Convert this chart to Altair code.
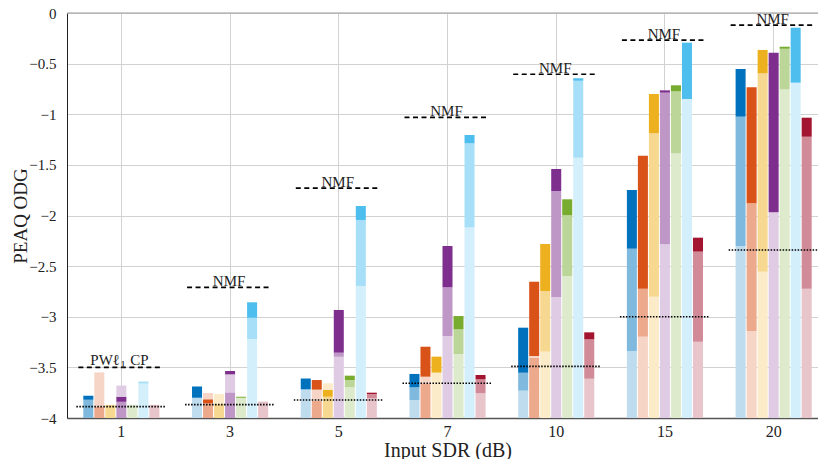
import altair as alt
import pandas as pd

sdr = ["1", "3", "5", "7", "10", "15", "20"]
methods = ["blue", "orange", "yellow", "purple", "green", "cyan", "red"]
shades = ["light", "medium", "dark"]

# bar tops per method, one value per SDR group (-4 = not visible)
light = {
    "blue":   [-3.775, -3.80, -3.717, -3.822, -3.73, -3.338, -2.301],
    "orange": [-3.55, -3.753, -3.72, -3.592, -3.388, -3.197, -3.141],
    "yellow": [-4.0, -3.763, -3.657, -3.552, -3.345, -2.802, -2.555],
    "purple": [-3.68, -3.569, -3.395, -3.19, -2.805, -2.285, -1.968],
    "green":  [-3.87, -3.80, -3.697, -3.368, -2.598, -1.386, -0.754],
    "cyan":   [-3.66, -3.22, -2.696, -2.117, -1.429, -0.849, -0.688],
    "red":    [-3.87, -3.845, -3.806, -3.756, -3.612, -3.246, -2.723],
}
medium = {
    "blue":   [-3.82, -4.0, -4.0, -3.697, -3.553, -2.328, -1.024],
    "orange": [-3.89, -3.855, -3.83, -3.657, -3.404, -2.723, -1.88],
    "yellow": [-3.87, -3.86, -3.79, -4.0, -2.746, -1.188, -0.596],
    "purple": [-3.84, -3.747, -3.355, -2.709, -1.758, -0.787, -4.0],
    "green":  [-4.0, -4.0, -3.625, -3.124, -1.998, -0.774, -0.353],
    "cyan":   [-3.64, -3.01, -2.044, -1.287, -0.668, -4.0, -4.0],
    "red":    [-4.0, -3.84, -3.763, -3.618, -3.223, -2.357, -1.222],
}
dark = {
    "blue":   [-3.78, -3.69, -3.61, -3.565, -3.108, -1.748, -0.553],
    "orange": [-4.0, -3.815, -3.625, -3.296, -2.654, -1.409, -0.734],
    "yellow": [-4.0, -4.0, -3.72, -3.394, -2.281, -0.80, -0.365],
    "purple": [-3.79, -3.536, -2.933, -2.301, -1.541, -0.764, -0.392],
    "green":  [-4.0, -3.79, -3.582, -2.993, -1.84, -0.714, -0.333],
    "cyan":   [-4.0, -2.857, -1.906, -1.205, -0.645, -0.293, -0.145],
    "red":    [-4.0, -4.0, -3.75, -3.575, -3.154, -2.219, -1.034],
}

nmf = [-3.50, -2.71, -1.73, -1.03, -0.605, -0.267, -0.12]
nmf_labels = ["", "NMF", "NMF", "NMF", "NMF", "NMF", "NMF"]
baseline = [-3.888, -3.868, -3.822, -3.657, -3.49, -3.0, -2.34]

# label of the first reference line: "PWℓ" + subscript "1" + "CP"
pw_parts = ["PWℓ", "1", "CP"]
pw_kind = ["main", "sub", "main"]

palette = {
    "blue":   {"dark": "#0072BD", "medium": "#80B9DE", "light": "#BFDCEF"},
    "orange": {"dark": "#D95319", "medium": "#ECA98C", "light": "#F6D4C6"},
    "yellow": {"dark": "#EDB120", "medium": "#F6D890", "light": "#FBEBC8"},
    "purple": {"dark": "#7E2F8E", "medium": "#BF97C7", "light": "#DFCBE3"},
    "green":  {"dark": "#77AC30", "medium": "#BBD698", "light": "#DDEACB"},
    "cyan":   {"dark": "#4DBEEE", "medium": "#A6DFF7", "light": "#D3EFFB"},
    "red":    {"dark": "#A2142F", "medium": "#D18A97", "light": "#E8C4CB"},
}

FONT = "Liberation Serif, DejaVu Serif"

rows = []
for gi, g in enumerate(sdr):
    for m in methods:
        vals = [(light[m][gi], "light"), (medium[m][gi], "medium"), (dark[m][gi], "dark")]
        vals.sort(key=lambda t: t[0])
        prev = -4.0
        for v, s in vals:
            if v > prev:
                rows.append(dict(sdr=g, method=m, key=f"{m}-{s}", lo=prev, hi=v))
                prev = v
bars_df = pd.DataFrame(rows)

lines_df = pd.DataFrame({"sdr": sdr, "nmf": nmf, "label": nmf_labels, "base": baseline})
pw_df = pd.DataFrame({"sdr": [sdr[0]] * 3, "nmf": [nmf[0]] * 3, "part": pw_parts, "kind": pw_kind,
                      "idx": [0, 1, 2]})

color_domain = [f"{m}-{s}" for m in methods for s in shades]
color_range = [palette[m][s] for m in methods for s in shades]

xscale = alt.Scale(domain=sdr, paddingInner=0.3, paddingOuter=0.15, range=[0, 761])
yscale = alt.Scale(domain=[-4, 0], nice=False, zero=False)

x_enc = alt.X(
    "sdr:O", sort=sdr, scale=xscale, title="Input SDR (dB)",
    axis=alt.Axis(labelAngle=0, grid=True, bandPosition=0.5, ticks=False,
                  labelPadding=5, titlePadding=1, domainColor="#555555",
                  domainWidth=1.5, gridColor="#d2d2d2", labelFontSize=16,
                  titleFontSize=20),
)

bars = alt.Chart(bars_df).mark_bar().encode(
    x=x_enc,
    xOffset=alt.XOffset("method:N", sort=methods, scale=alt.Scale(paddingInner=0.09)),
    y=alt.Y("lo:Q", scale=yscale, title="PEAQ ODG",
            axis=alt.Axis(values=[-4, -3.5, -3, -2.5, -2, -1.5, -1, -0.5, 0],
                          format="~g", ticks=False, labelPadding=11,
                          domainColor="#222222", gridColor="#d2d2d2",
                          titleX=-41, titleBaseline="alphabetic",
                          labelFontSize=15, titleFontSize=19)),
    y2="hi:Q",
    color=alt.Color("key:N", scale=alt.Scale(domain=color_domain, range=color_range), legend=None),
)

top_line = alt.Chart(pd.DataFrame({"y": [0]})).mark_rule(color="#999999", strokeWidth=1.2).encode(
    y=alt.Y("y:Q", scale=yscale)
)

dashed = alt.Chart(lines_df).mark_rule(
    color="black", strokeWidth=1.7, strokeDash=[5, 3.5], xOffset=-43, x2Offset=41
).encode(
    x=alt.X("sdr:O", sort=sdr, scale=xscale),
    x2=alt.X2("sdr"),
    y=alt.Y("nmf:Q", scale=yscale),
)

dotted = alt.Chart(lines_df).mark_rule(
    color="black", strokeWidth=1.6, strokeDash=[1.5, 1.5], xOffset=-45, x2Offset=44
).encode(
    x=alt.X("sdr:O", sort=sdr, scale=xscale),
    x2=alt.X2("sdr"),
    y=alt.Y("base:Q", scale=yscale),
)

labels = alt.Chart(lines_df).mark_text(
    font=FONT, fontSize=15, baseline="alphabetic", dy=-1, dx=-1, color="#222222"
).encode(
    x=alt.X("sdr:O", sort=sdr, scale=xscale),
    y=alt.Y("nmf:Q", scale=yscale),
    text="label:N",
)

pw_base = alt.Chart(pw_df).encode(
    x=alt.X("sdr:O", sort=sdr, scale=xscale),
    y=alt.Y("nmf:Q", scale=yscale),
    text="part:N",
)
pw1 = pw_base.transform_filter("datum.idx == 0").mark_text(
    font=FONT, fontSize=15, baseline="alphabetic", align="left", dx=-31, dy=-2, color="#222222")
pw2 = pw_base.transform_filter("datum.idx == 1").mark_text(
    font=FONT, fontSize=11, baseline="alphabetic", align="left", dx=-1, dy=1, color="#222222")
pw3 = pw_base.transform_filter("datum.idx == 2").mark_text(
    font=FONT, fontSize=15, baseline="alphabetic", align="left", dx=9, dy=-2, color="#222222")

chart = alt.layer(bars, top_line, dashed, dotted, labels, pw1, pw2, pw3).properties(
    width=751, height=405,
    autosize=alt.AutoSizeParams(type="none"),
    padding={"left": 59, "top": 5, "right": 0, "bottom": 41},
).configure_view(stroke=None).configure_axis(
    labelFont=FONT, titleFont=FONT,
    titleFontWeight="normal", labelColor="#222222", titleColor="#222222",
)

chart.save("out.html", embed_options={"renderer": "svg", "actions": False})
